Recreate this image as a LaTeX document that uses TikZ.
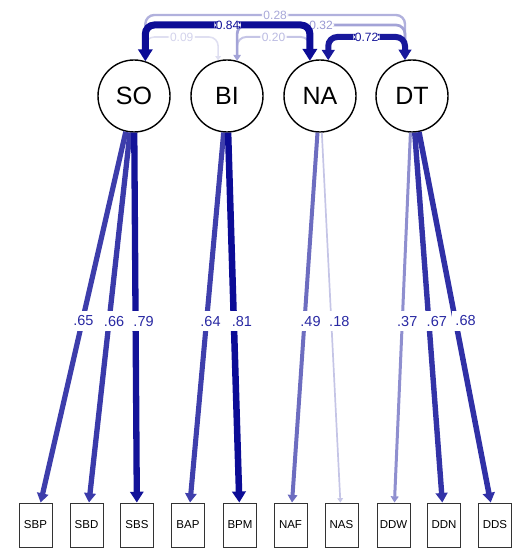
\documentclass[tikz,border=0pt]{standalone}
\usepackage{fontspec}
\setmainfont{Liberation Sans}
\usetikzlibrary{arrows.meta}
\definecolor{semblue}{RGB}{12,12,150}
\begin{document}
\begin{tikzpicture}[x=1pt,y=-1pt,
  lv/.style={circle,draw=black,line width=1.4pt,minimum size=72pt,inner sep=0pt,
    font=\fontsize{25}{28}\selectfont},
  ov/.style={rectangle,draw=black!80,line width=0.9pt,minimum width=33pt,
    minimum height=44pt,inner sep=1pt,font=\fontsize{11.5}{13}\selectfont},
  loading/.style={-{Triangle[length=2pt 1.4,width=3pt 1.6]}},
  covar/.style={{Triangle[length=2pt 1.4,width=3pt 1.6]}-{Triangle[length=2pt 1.4,width=3pt 1.6]},
    rounded corners=9pt},
  llab/.style={fill=white,inner xsep=3pt,inner ysep=5pt,text=semblue!88!white,
    font=\fontsize{14.5}{16}\selectfont,pos=0.51},
  clab/.style={fill=white,inner sep=1.5pt,font=\fontsize{12}{13}\selectfont}
]
\useasboundingbox (0,0) rectangle (531,548);

% latent variables
\node[lv] (SO) at (134,96) {SO};
\node[lv] (BI) at (227,96) {BI};
\node[lv] (NA) at (320,96) {NA};
\node[lv] (DT) at (412,96) {DT};

% indicators
\node[ov] (SBP) at (35.5,525) {SBP};
\node[ov] (SBD) at (86.5,525) {SBD};
\node[ov] (SBS) at (137,525) {SBS};
\node[ov] (BAP) at (188,525) {BAP};
\node[ov] (BPM) at (240,525) {BPM};
\node[ov] (NAF) at (290.5,525) {NAF};
\node[ov] (NAS) at (341.5,525) {NAS};
\node[ov] (DDW) at (393.5,525) {DDW};
\node[ov] (DDN) at (444,525) {DDN};
\node[ov] (DDS) at (495,525) {DDS};

% factor loadings
\draw[loading,line width=5.2pt,draw=semblue!80!white] (SO) -- node[llab,xshift=1pt]{.65} (SBP);
\draw[loading,line width=5.3pt,draw=semblue!81!white] (SO) -- node[llab,xshift=5pt]{.66} (SBD);
\draw[loading,line width=6.3pt,draw=semblue!97!white] (SO) -- node[llab,xshift=8pt]{.79} (SBS);
\draw[loading,line width=5.1pt,draw=semblue!79!white] (BI) -- node[llab,xshift=4pt]{.64} (BAP);
\draw[loading,line width=6.5pt,draw=semblue] (BI) -- node[llab,xshift=8pt]{.81} (BPM);
\draw[loading,line width=4.0pt,draw=semblue!60!white] (NA) -- node[llab,xshift=6pt]{.49} (NAF);
\draw[loading,line width=1.7pt,draw=semblue!24!white] (NA) -- node[llab,xshift=8pt]{.18} (NAS);
\draw[loading,line width=3.0pt,draw=semblue!46!white] (DT) -- node[llab,xshift=5pt]{.37} (DDW);
\draw[loading,line width=5.4pt,draw=semblue!84!white] (DT) -- node[llab,xshift=8pt]{.67} (DDN);
\draw[loading,line width=5.5pt,draw=semblue!85!white] (DT) -- node[llab,xshift=10pt]{.68} (DDS);

% levels of the covariance brackets
\coordinate (lvA) at (0,15);
\coordinate (lvB) at (0,25);
\coordinate (lvC) at (0,37);

% factor covariances, lightest first
\draw[covar,line width=1.6pt,draw=semblue!13!white]
  (SO.72) -- (SO.72 |- lvC) -- node[clab,text=semblue!18!white]{0.09} (BI.104 |- lvC) -- (BI.104);
\draw[covar,line width=2.0pt,draw=semblue!24!white]
  (BI.74) -- (BI.74 |- lvC) -- node[clab,text=semblue!28!white]{0.20} (NA.106 |- lvC) -- (NA.106);
\draw[covar,line width=2.4pt,draw=semblue!32!white]
  (SO.72) -- (SO.72 |- lvA) -- node[clab,text=semblue!36!white]{0.28} (DT.101 |- lvA) -- (DT.101);
\draw[covar,line width=2.7pt,draw=semblue!38!white]
  (BI.74) -- (BI.74 |- lvB) -- node[clab,text=semblue!42!white]{0.32} (DT.101 |- lvB) -- (DT.101);
\draw[covar,line width=6.0pt,draw=semblue!95!white]
  (NA.77) -- (NA.77 |- lvC) -- node[clab,text=semblue!95!white]{0.72} (DT.101 |- lvC) -- (DT.101);
\draw[covar,line width=7.0pt,draw=semblue]
  (SO.72) -- (SO.72 |- lvB) -- node[clab,text=semblue]{0.84} (NA.106 |- lvB) -- (NA.106);
\end{tikzpicture}
\end{document}
